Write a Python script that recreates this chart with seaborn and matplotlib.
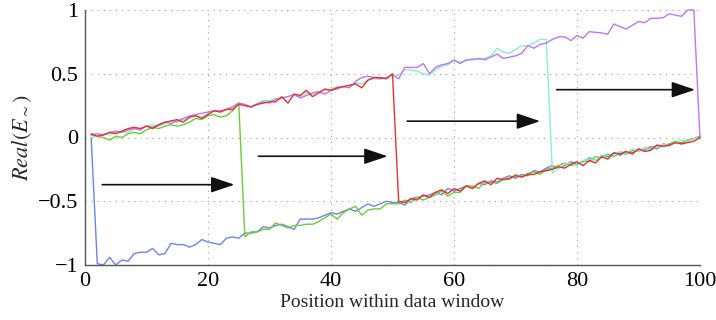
import numpy as np
import pandas as pd
import matplotlib
matplotlib.use("Agg")
import matplotlib.pyplot as plt
import seaborn as sns

positions = list(range(1, 101))

blue = [0.00, -0.99, -1.00, -0.94, -1.00, -0.96, -0.97, -0.91, -0.90, -0.90,
        -0.87, -0.92, -0.91, -0.83, -0.84, -0.84, -0.86, -0.84, -0.80, -0.82,
        -0.83, -0.84, -0.79, -0.78, -0.79, -0.75, -0.75, -0.74, -0.70, -0.71,
        -0.69, -0.68, -0.70, -0.72, -0.64, -0.64, -0.64, -0.63, -0.61, -0.59,
        -0.60, -0.58, -0.56, -0.58, -0.55, -0.52, -0.54, -0.52, -0.50, -0.51,
        -0.51, -0.53, -0.48, -0.47, -0.46, -0.45, -0.43, -0.45, -0.40, -0.42,
        -0.40, -0.38, -0.40, -0.36, -0.37, -0.34, -0.35, -0.32, -0.30, -0.32,
        -0.29, -0.30, -0.26, -0.27, -0.24, -0.22, -0.24, -0.22, -0.19, -0.21,
        -0.19, -0.16, -0.18, -0.14, -0.15, -0.12, -0.14, -0.11, -0.12, -0.09,
        -0.10, -0.07, -0.09, -0.05, -0.06, -0.04, -0.05, -0.02, -0.01, 0.01]

green = [0.02, 0.01, 0.00, -0.02, 0.01, 0.00, 0.03, 0.04, 0.03, 0.06,
         0.08, 0.07, 0.09, 0.10, 0.09, 0.10, 0.12, 0.15, 0.14, 0.17,
         0.18, 0.16, 0.17, 0.21, 0.27, -0.78, -0.74, -0.74, -0.72, -0.72,
         -0.67, -0.69, -0.71, -0.69, -0.69, -0.68, -0.68, -0.66, -0.63, -0.60,
         -0.64, -0.59, -0.56, -0.54, -0.61, -0.57, -0.56, -0.56, -0.52, -0.52,
         -0.52, -0.49, -0.51, -0.47, -0.49, -0.47, -0.45, -0.42, -0.46, -0.43,
         -0.43, -0.38, -0.38, -0.40, -0.35, -0.35, -0.36, -0.33, -0.33, -0.29,
         -0.31, -0.28, -0.27, -0.29, -0.25, -0.24, -0.22, -0.20, -0.22, -0.21,
         -0.18, -0.19, -0.15, -0.16, -0.13, -0.15, -0.12, -0.13, -0.10, -0.11,
         -0.08, -0.09, -0.06, -0.07, -0.05, -0.03, -0.04, -0.02, -0.01, 0.01]

red = [0.03, 0.01, 0.02, 0.04, 0.03, 0.05, 0.07, 0.08, 0.07, 0.09,
       0.07, 0.10, 0.12, 0.13, 0.14, 0.12, 0.16, 0.17, 0.15, 0.18,
       0.21, 0.20, 0.22, 0.22, 0.26, 0.25, 0.24, 0.26, 0.27, 0.28,
       0.28, 0.32, 0.27, 0.34, 0.33, 0.37, 0.32, 0.35, 0.38, 0.37,
       0.39, 0.40, 0.41, 0.42, 0.39, 0.45, 0.47, 0.47, 0.46, 0.50,
       -0.50, -0.51, -0.48, -0.49, -0.45, -0.47, -0.43, -0.41, -0.44, -0.40,
       -0.42, -0.38, -0.40, -0.36, -0.34, -0.37, -0.32, -0.33, -0.32, -0.30,
       -0.31, -0.29, -0.29, -0.27, -0.26, -0.25, -0.23, -0.24, -0.21, -0.19,
       -0.22, -0.18, -0.20, -0.15, -0.17, -0.12, -0.13, -0.11, -0.13, -0.09,
       -0.11, -0.10, -0.06, -0.07, -0.06, -0.04, -0.05, -0.04, -0.03, 0.00]

cyan = [0.00, 0.01, 0.03, 0.02, 0.04, 0.05, 0.04, 0.07, 0.06, 0.09,
        0.10, 0.09, 0.11, 0.13, 0.12, 0.14, 0.16, 0.17, 0.16, 0.19,
        0.21, 0.20, 0.22, 0.24, 0.27, 0.25, 0.24, 0.27, 0.29, 0.29,
        0.30, 0.31, 0.32, 0.33, 0.32, 0.35, 0.34, 0.36, 0.37, 0.38,
        0.40, 0.39, 0.40, 0.43, 0.42, 0.45, 0.46, 0.46, 0.47, 0.49,
        0.49, 0.53, 0.53, 0.52, 0.50, 0.49, 0.53, 0.56, 0.57, 0.60,
        0.59, 0.60, 0.62, 0.61, 0.62, 0.64, 0.70, 0.67, 0.66, 0.69,
        0.72, 0.72, 0.74, 0.77, 0.77, -0.28, -0.24, -0.21, -0.20, -0.22,
        -0.18, -0.17, -0.18, -0.14, -0.16, -0.14, -0.11, -0.12, -0.09, -0.11,
        -0.08, -0.10, -0.07, -0.05, -0.07, -0.04, -0.02, -0.03, -0.01, 0.00]

magenta = [0.02, 0.03, 0.02, 0.04, 0.05, 0.04, 0.06, 0.07, 0.06, 0.09,
           0.08, 0.10, 0.12, 0.11, 0.13, 0.15, 0.17, 0.18, 0.19, 0.20,
           0.21, 0.21, 0.22, 0.24, 0.27, 0.26, 0.24, 0.26, 0.28, 0.27,
           0.30, 0.31, 0.32, 0.34, 0.31, 0.33, 0.35, 0.36, 0.34, 0.37,
           0.38, 0.40, 0.39, 0.44, 0.47, 0.48, 0.47, 0.46, 0.47, 0.49,
           0.46, 0.55, 0.55, 0.55, 0.58, 0.50, 0.55, 0.57, 0.58, 0.61,
           0.58, 0.61, 0.61, 0.62, 0.61, 0.63, 0.655, 0.62, 0.63, 0.64,
           0.66, 0.72, 0.70, 0.73, 0.74, 0.77, 0.79, 0.79, 0.76, 0.80,
           0.78, 0.83, 0.825, 0.82, 0.81, 0.89, 0.87, 0.85, 0.88, 0.91,
           0.90, 0.935, 0.935, 0.94, 0.97, 0.96, 0.95, 1.00, 1.00, -0.01]

series_names = ["s1", "s2", "s3", "s4", "s5"]
series_values = [blue, green, cyan, magenta, red]
colors = {"s1": "#7083e8", "s2": "#6ccc3a", "s3": "#86f0d2",
          "s4": "#c276ee", "s5": "#e83030"}

# arrows: (start_x, end_x, y)
arrow_x0 = [2.8, 28.2, 52.4, 76.7]
arrow_x1 = [24.3, 49.2, 74.0, 99.2]
arrow_y = [-0.37, -0.147, 0.128, 0.375]

tick_x = [0, 20, 40, 60, 80, 100]
tick_y = [-1, -0.5, 0, 0.5, 1]

df = pd.concat([pd.DataFrame({"pos": positions, "val": v, "series": n})
                for n, v in zip(series_names, series_values)], ignore_index=True)

sns.set_style("white")
plt.rcParams["font.family"] = ["Liberation Serif", "DejaVu Serif"]
plt.rcParams["mathtext.fontset"] = "stix"
plt.rcParams["axes.unicode_minus"] = True

fig = plt.figure(figsize=(7.16, 3.2), dpi=100)
ax = fig.add_axes([85 / 716, 1 - 265 / 320, 615 / 716, 255 / 320])

sns.lineplot(data=df, x="pos", y="val", hue="series", hue_order=series_names,
             palette=colors, estimator=None, sort=False, linewidth=1.0,
             legend=False, ax=ax)
for ln in ax.lines:
    ln.set_clip_on(False)

for x0, x1, y in zip(arrow_x0, arrow_x1, arrow_y):
    ax.annotate("", xy=(x1, y), xytext=(x0, y),
                arrowprops=dict(arrowstyle="-|>,head_length=0.8,head_width=0.27",
                                color="#111111", lw=1.2, mutation_scale=18,
                                shrinkA=0, shrinkB=0))

ax.set_xlim(0, 100)
ax.set_ylim(-1, 1)
ax.set_xticks(tick_x)
ax.set_yticks(tick_y)
ax.set_xticklabels([str(t) for t in tick_x])
ax.set_yticklabels(["\u22121", "\u22120.5", "0", "0.5", "1"])
ax.tick_params(direction="in", length=4, width=0.8, color="#555555",
               labelsize=16, labelcolor="black", pad=5)
ax.grid(True, color="#a0a0a0", linestyle=(0, (1, 4.5)), linewidth=0.8)
ax.set_axisbelow(True)
for side in ["top", "right"]:
    ax.spines[side].set_visible(False)
for side in ["left", "bottom"]:
    ax.spines[side].set_color("#555555")
    ax.spines[side].set_linewidth(1.0)

ax.set_xlabel("Position within data window", fontsize=14, labelpad=2)
ax.set_ylabel(r"$Real(E_{\sim})$", fontsize=16, labelpad=3)

fig.savefig("out.png", dpi=100)
